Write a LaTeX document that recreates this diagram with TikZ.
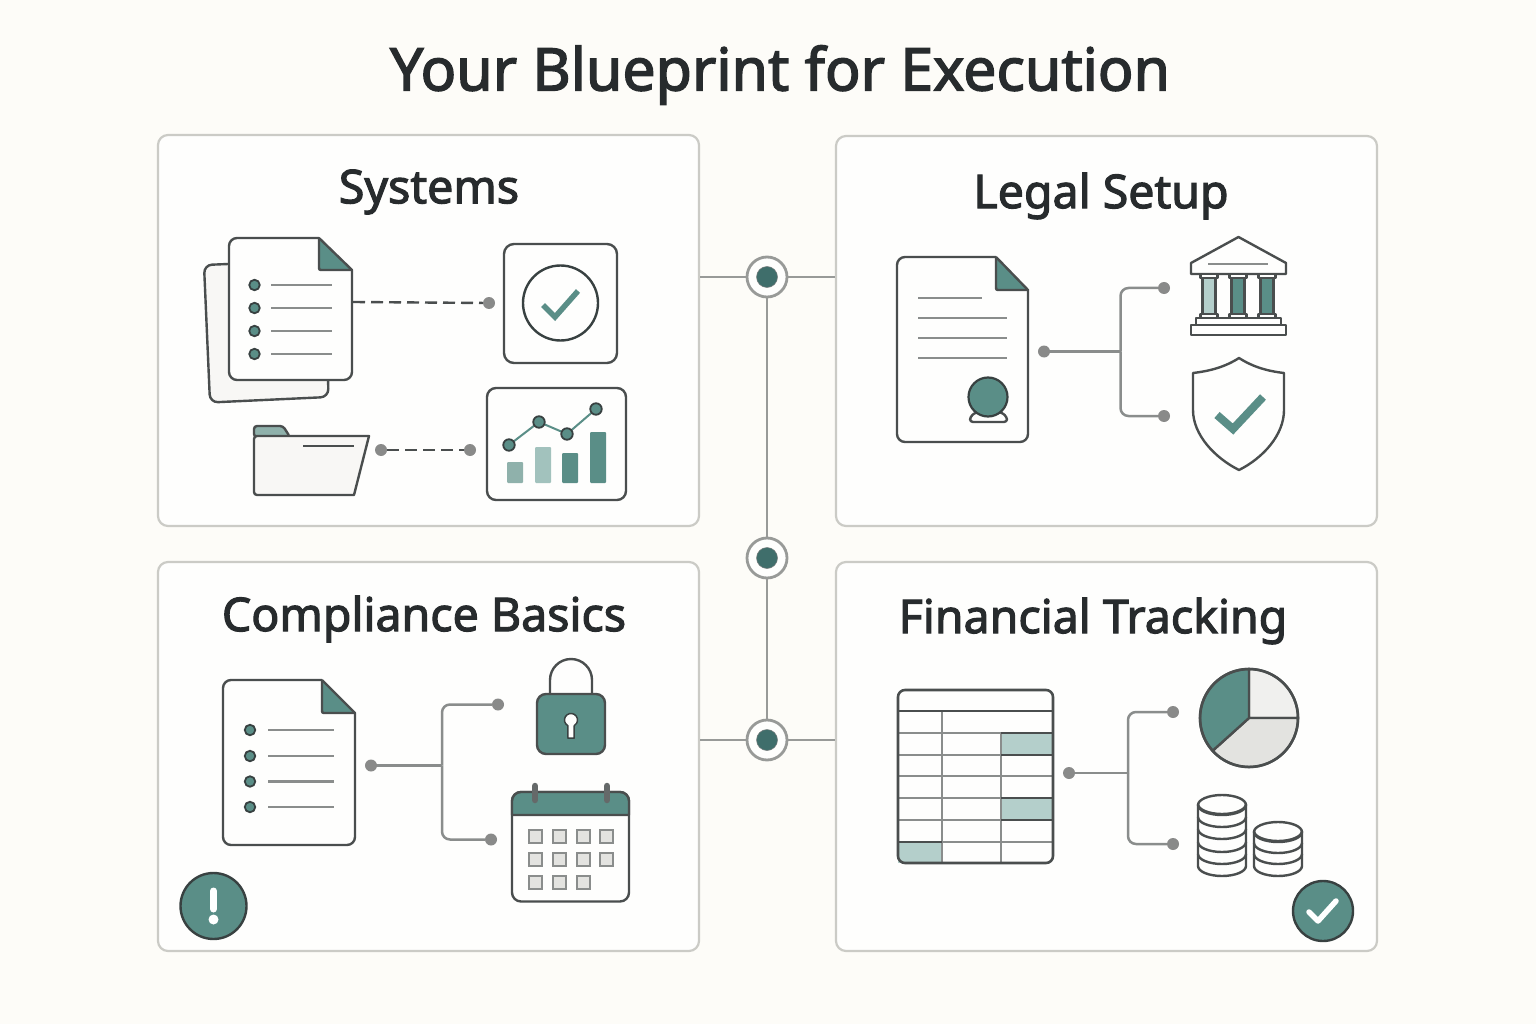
\documentclass[tikz,border=0pt]{standalone}
\usepackage{fontspec}
\setmainfont{Noto Sans}
\newfontfamily\headfont{Noto Sans}[FakeBold=2.4]
\definecolor{bgc}{HTML}{FDFCF8}
\definecolor{panelb}{HTML}{CBCBC6}
\definecolor{panelf}{HTML}{FEFEFD}
\definecolor{ink}{HTML}{4A4E4E}
\definecolor{inkd}{HTML}{384141}
\definecolor{teal}{HTML}{5A8E87}
\definecolor{tealL}{HTML}{B4CFCB}
\definecolor{tealM}{HTML}{8FB1AB}
\definecolor{grayl}{HTML}{8A8D8C}
\definecolor{dotc}{HTML}{898A89}
\definecolor{hubc}{HTML}{989A98}
\definecolor{hubd}{HTML}{3F6E6B}
\definecolor{titlec}{HTML}{272B2D}
\definecolor{sheet}{HTML}{F8F7F5}
\definecolor{cellc}{HTML}{E3E3E0}
\tikzset{
  panel/.style={draw=panelb,line width=2.2pt,fill=panelf,rounded corners=10pt,inner sep=0pt,minimum width=541pt},
  heading/.style={text=titlec,font=\headfont\fontsize{46.5}{52}\selectfont,inner sep=0pt},
  bigtitle/.style={text=titlec,font=\headfont\fontsize{59}{66}\selectfont,inner sep=0pt},
  conndot/.style={circle,fill=dotc,minimum size=12pt,inner sep=0pt},
  hubring/.style={circle,draw=hubc,fill=panelf,line width=2.8pt,minimum size=40pt,inner sep=0pt},
  hubcore/.style={circle,fill=hubd,draw=inkd!70,line width=.5pt,minimum size=21pt,inner sep=0pt},
  hubline/.style={draw=hubc,line width=2.5pt},
  branch/.style={draw=grayl,line width=2.5pt,rounded corners=8pt},
  dashlink/.style={draw=ink,line width=2.4pt,dash pattern=on 12pt off 6pt},
  icon/.style={draw=ink,line width=2.4pt,line join=round},
  txtline/.style={draw=grayl,line width=2.4pt},
  bullet/.style={circle,fill=teal,draw=inkd,line width=1.8pt,minimum size=10.5pt,inner sep=0pt},
  tick/.style={draw=teal,line width=6.5pt,line join=miter},
}
% sheet with folded corner: x0 y0 x1 y1 foldx foldy
\newcommand{\foldsheet}[6]{%
  \fill[panelf] (#5,#2) -- (#3,#6) -- (#3,#4) -- (#1,#4) -- (#1,#2) -- cycle;
  \fill[teal] (#5,#6) -- (#3,#6) -- (#5,#2) -- cycle;
  \draw[icon] (#5,#2) -- (#5,#6-4) .. controls (#5,#6) and (#5,#6) .. (#5+4,#6) -- (#3,#6);
  \draw[icon,rounded corners=8pt] (#5,#2) [sharp corners] -- (#3,#6) [rounded corners=8pt] -- (#3,#4) -- (#1,#4) -- (#1,#2) -- (#5,#2);
}
\newcommand{\coinstack}[4]{% cx, topcentre y, band bottoms, last bottom
  \draw[icon,fill=panelf] (#1-24,#2) -- (#1-24,#4-10) arc[start angle=180,end angle=0,x radius=24,y radius=10] -- (#1+24,#2);
  \draw[icon,fill=panelf] (#1,#2) ellipse[x radius=24,y radius=10];
  \foreach \yb in {#3} {\draw[icon] (#1-24,\yb-10) arc[start angle=180,end angle=0,x radius=24,y radius=10];}
}
\begin{document}
\begin{tikzpicture}[x=1pt,y=-1pt]
\useasboundingbox (0,0) rectangle (1536,1024);
\fill[bgc] (0,0) rectangle (1536,1024);
\node[bigtitle] (title) at (780,75) {Your Blueprint for Execution};

% panels, hubs and connectors
\node[panel,minimum height=391pt] (sys) at (428.5,330.5) {};
\node[panel,minimum height=390pt] (leg) at (1106.5,331) {};
\node[panel,minimum height=389pt] (cmp) at (428.5,756.5) {};
\node[panel,minimum height=389pt] (fin) at (1106.5,756.5) {};
\coordinate (hubA) at (767,277);
\coordinate (hubB) at (767,558);
\coordinate (hubC) at (767,740);
\draw[hubline] (hubA) -- (hubB) -- (hubC);
\draw[hubline] (sys.east |- hubA) -- (hubA) -- (leg.west |- hubA);
\draw[hubline] (cmp.east |- hubC) -- (hubC) -- (fin.west |- hubC);
\foreach \h in {hubA,hubB,hubC}{
  \node[hubring] (\h r) at (\h) {};
  \node[hubcore] (\h c) at (\h) {};
}

\node[heading] (tsys) at (429,192) {Systems};
\node[heading] (tleg) at (1101,196) {Legal Setup};
\node[heading] (tcmp) at (424,619) {Compliance Basics};
\node[heading] (tfin) at (1093,621) {Financial Tracking};

% ---------- Systems
\draw[icon,fill=sheet,rounded corners=8pt] (204,265) -- (210,402.5) -- (328.5,397) -- (325,260) -- cycle;
\foldsheet{229}{238}{352}{380}{319}{270}
\foreach \yy in {285,308,331,354}{
  \node[bullet] at (254.5,\yy) {};
  \draw[txtline] (271,\yy) -- (332,\yy);
}
\coordinate (sysA) at (353,302);
\node[conndot] (sysB) at (489,303) {};
\draw[dashlink] (sysA) -- (sysB);
\draw[icon,fill=panelf,rounded corners=10pt] (504,244) rectangle (617,363);
\draw[draw=inkd,line width=2.4pt] (560.5,303) circle[radius=37.5];
\draw[tick,line width=5.5pt] (543,305) -- (555,317) -- (578,291);
% folder
\draw[icon,fill=tealM,rounded corners=3pt] (254,437) -- (254,426) -- (283,426) -- (290,437) -- cycle;
\draw[icon,fill=sheet,rounded corners=3pt] (254,436) [sharp corners] -- (369,436) -- (354,495) [rounded corners=3pt] -- (254,495) -- cycle;
\draw[icon] (303,446) -- (354,446);
\node[conndot] (folA) at (381,450) {};
\node[conndot] (folB) at (470,450) {};
\draw[dashlink] (folA) -- (folB);
% chart
\draw[icon,fill=panelf,rounded corners=9pt] (487,388) rectangle (626,500);
\fill[tealM,rounded corners=1pt] (507,462) rectangle (523,483);
\fill[tealL!80!teal,rounded corners=1pt] (535,447) rectangle (551,483);
\fill[teal,rounded corners=1pt] (562,453) rectangle (578,483);
\fill[teal,rounded corners=1pt] (590,432) rectangle (606,483);
\draw[draw=teal,line width=2pt] (509,445) -- (539,422) -- (567,434) -- (596,409);
\foreach \px/\py in {509/445,539/422,567/434,596/409}{
  \node[bullet,minimum size=11.5pt,draw=inkd] at (\px,\py) {};
}

% ---------- Legal
\foldsheet{897}{257}{1028}{442}{996}{290}
\draw[txtline] (918,298) -- (982,298);
\foreach \yy in {318,338,358}{\draw[txtline] (918,\yy) -- (1007,\yy);}
\draw[icon,fill=panelf,rounded corners=3pt] (970,422) -- (970,417) -- (976,412) -- (1001,412) -- (1007,417) -- (1007,422) -- cycle;
\draw[draw=inkd,line width=2.2pt,fill=teal] (988,397) circle[radius=19.5];
\node[conndot] (legA) at (1044,351.5) {};
\node[conndot] (legB) at (1164,288) {};
\node[conndot] (legC) at (1164,416) {};
\coordinate (legJ) at (1120.5,351.5);
\draw[branch] (legA) -- (legJ);
\draw[branch] (legB) -| (legJ);
\draw[branch] (legC) -| (legJ);
% bank
\draw[icon,fill=panelf] (1238.5,237) -- (1286,263) -- (1286,274) -- (1191,274) -- (1191,263) -- cycle;
\draw[txtline] (1208,264) -- (1268,264);
\foreach \cx/\cc in {1209/tealL,1238/teal,1267/teal}{
  \draw[icon,fill=\cc] (\cx-6.5,278) rectangle (\cx+6.5,314);
  \draw[icon,fill=panelf] (\cx-8.5,274) rectangle (\cx+8.5,278);
  \draw[icon,fill=panelf] (\cx-8.5,314) rectangle (\cx+8.5,318);
}
\draw[icon,fill=panelf] (1196,318) rectangle (1281,325);
\draw[icon,fill=panelf] (1191,325) rectangle (1286,335);
% shield
\draw[icon,fill=panelf] (1239,358) .. controls (1225,367) and (1210,371) .. (1193,373)
  -- (1193,410) .. controls (1193,435) and (1215,458) .. (1239,470)
  .. controls (1263,458) and (1284,435) .. (1284,410) -- (1284,373)
  .. controls (1267,371) and (1253,367) .. (1239,358) -- cycle;
\draw[tick,line width=8pt] (1217,415) -- (1233,429) -- (1263,397);

% ---------- Compliance
\foldsheet{223}{680}{355}{845}{322}{713}
\foreach \yy in {730,756,781.5,807}{
  \node[bullet] at (250,\yy) {};
  \draw[txtline] (268,\yy) -- (334,\yy);
}
\node[conndot] (cmpA) at (371,765.5) {};
\node[conndot] (cmpB) at (498,704.5) {};
\node[conndot] (cmpC) at (491,839.5) {};
\coordinate (cmpJ) at (442,765.5);
\draw[branch] (cmpA) -- (cmpJ);
\draw[branch] (cmpB) -| (cmpJ);
\draw[branch] (cmpC) -| (cmpJ);
% lock
\draw[icon] (550,695) -- (550,680) arc[start angle=180,end angle=360,radius=21] -- (592,695);
\draw[icon,fill=teal,rounded corners=9pt] (537,694) rectangle (605,754);
\draw[draw=inkd,line width=1.5pt,fill=panelf] (567.75,725.6) arc[start angle=120,end angle=420,radius=6.5] -- (574,738) -- (568,738) -- cycle;
% calendar
\draw[icon,fill=panelf,rounded corners=9pt] (512,792) rectangle (629,901.5);
\draw[icon,fill=teal] (512,815) -- (512,801) arc[start angle=180,end angle=270,radius=9] -- (620,792) arc[start angle=270,end angle=360,radius=9] -- (629,815) -- cycle;
\foreach \rx in {535,607}{
  \draw[draw=ink!85!white,line width=6.5pt,line cap=round] (\rx,786) -- (\rx,800);
}
\foreach \cy/\cxs in {836/{535,559,583,606},859/{535,559,583,606},882/{535,559,583}}{
  \foreach \cx in \cxs {
    \draw[draw=grayl,line width=2pt,fill=cellc] (\cx-6.5,\cy-6.5) rectangle (\cx+6.5,\cy+6.5);
  }
}
% alert
\node[circle,draw=inkd,line width=2.4pt,fill=teal,minimum size=66pt,inner sep=0pt] (alert) at (213.5,906) {};
\draw[draw=white,line width=7pt,line cap=round] (213.5,891) -- (213.5,909);
\fill[white] (213.5,919.5) circle[radius=5];

% ---------- Financial
\fill[tealL] (1001,733) rectangle (1053,755);
\fill[tealL] (1001,798) rectangle (1053,820);
\fill[tealL] (898,842) rectangle (942,863);
\foreach \yy in {733,755,776,798,820,842}{\draw[draw=grayl,line width=2.4pt] (898,\yy) -- (1053,\yy);}
\draw[draw=grayl,line width=2.4pt] (942,711) -- (942,863);
\draw[draw=grayl,line width=2.4pt] (1001,733) -- (1001,863);
\draw[icon] (898,711) -- (1053,711);
\draw[draw=ink,line width=2.4pt] (1001,733) -- (1053,733) (1001,755) -- (1053,755) (1001,798) -- (1053,798) (1001,820) -- (1053,820) (898,842) -- (942,842);
\draw[icon,rounded corners=7pt,line width=2.6pt] (898,690) rectangle (1053,863);
\node[conndot] (finA) at (1069,773) {};
\node[conndot] (finB) at (1173,712) {};
\node[conndot] (finC) at (1173,844) {};
\coordinate (finJ) at (1128,773);
\draw[branch] (finA) -- (finJ);
\draw[branch] (finB) -| (finJ);
\draw[branch] (finC) -| (finJ);
% pie (y axis runs down: angles are measured clockwise on screen)
\coordinate (pieC) at (1249,718);
\draw[icon,fill=cellc!55!white] (pieC) -- (1298,718) arc[start angle=0,end angle=-90,radius=49] -- cycle;
\draw[icon,fill=cellc] (pieC) -- (1298,718) arc[start angle=0,end angle=138,radius=49] -- cycle;
\draw[icon,fill=teal] (pieC) -- (1249,669) arc[start angle=-90,end angle=-222,radius=49] -- cycle;
\draw[icon,line width=2.6pt] (pieC) circle[radius=49];
% coins
\coinstack{1222}{805}{814,827,839,852,864}{876}
\coinstack{1278}{832}{841,853,864}{876}
% check badge
\node[circle,draw=inkd,line width=2.4pt,fill=teal,minimum size=60pt,inner sep=0pt] (okb) at (1323,911) {};
\draw[draw=white,line width=5.5pt,line cap=round,line join=round] (1309,912) -- (1318,921) -- (1336,901);
\end{tikzpicture}
\end{document}
